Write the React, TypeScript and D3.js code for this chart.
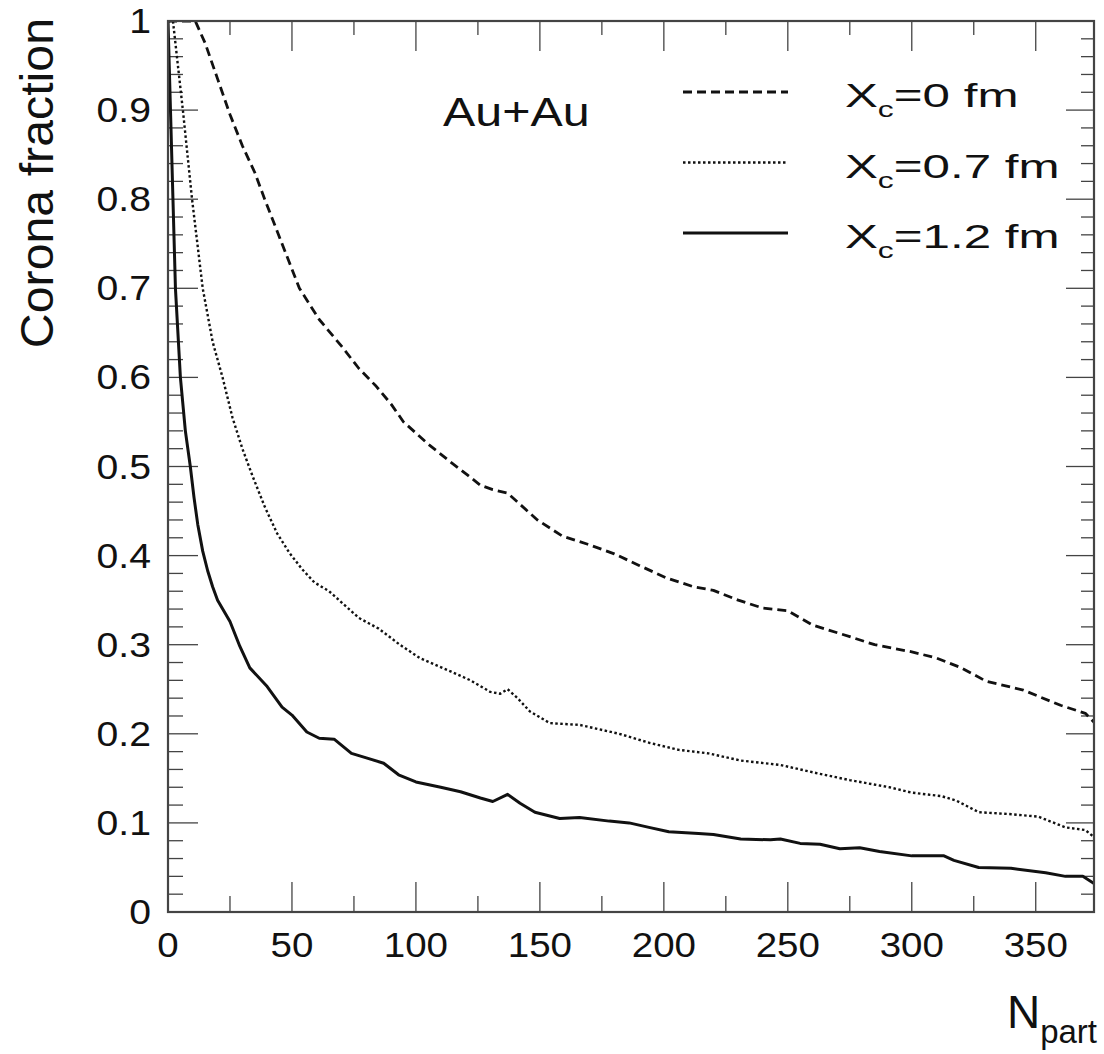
import React from "react";
import * as d3 from "d3";

const xc0Dashed: [number, number][] = [
  [0, 1], [11, 1], [15, 0.975], [20, 0.935], [25, 0.895], [30, 0.86], [35, 0.83], [39, 0.8],
  [46, 0.75], [53, 0.7], [61, 0.665], [70, 0.635], [77, 0.61], [84, 0.59], [90, 0.57], [95, 0.55],
  [105, 0.525], [114, 0.505], [121, 0.49], [126, 0.479], [131, 0.474], [137, 0.47], [141, 0.46],
  [149, 0.44], [159, 0.422], [169, 0.413], [180, 0.402], [190, 0.389], [201, 0.375], [212, 0.365],
  [220, 0.361], [230, 0.35], [240, 0.341], [250, 0.338], [260, 0.322], [275, 0.309], [285, 0.3],
  [300, 0.292], [310, 0.285], [320, 0.274], [330, 0.259], [345, 0.249], [360, 0.232], [370, 0.223],
  [373.5, 0.213],
];

const xc07Dotted: [number, number][] = [
  [0, 1], [2, 1], [4, 0.95], [6, 0.9], [9.7, 0.8], [14, 0.7], [18, 0.64], [22, 0.6], [26, 0.555],
  [30, 0.52], [34, 0.49], [39, 0.455], [44, 0.425], [49, 0.403], [54, 0.385], [59, 0.37], [65, 0.36],
  [69, 0.35], [77, 0.33], [85, 0.318], [93.5, 0.3], [101.6, 0.285], [114, 0.27], [122, 0.26],
  [130, 0.247], [134, 0.245], [137, 0.25], [141, 0.24], [146, 0.225], [154, 0.212], [166, 0.21],
  [174, 0.205], [182, 0.2], [194, 0.19], [206, 0.182], [218, 0.178], [231, 0.17], [247, 0.165],
  [255, 0.16], [263, 0.155], [275, 0.148], [291, 0.14], [300, 0.134], [312, 0.13], [318, 0.125],
  [327, 0.112], [339, 0.11], [351, 0.107], [362, 0.095], [370, 0.092], [373.5, 0.084],
];

const xc12Solid: [number, number][] = [
  [0, 1], [1, 0.9], [2, 0.8], [3, 0.7], [5, 0.6], [7, 0.54], [9, 0.5], [10.5, 0.465], [12, 0.435],
  [14, 0.405], [16, 0.383], [18, 0.365], [20, 0.35], [25, 0.326], [29, 0.298], [33, 0.274], [40, 0.253], [46, 0.23],
  [50, 0.221], [56, 0.202], [61, 0.195], [67, 0.194], [74, 0.178], [80, 0.173], [87, 0.167],
  [93, 0.154], [100, 0.146], [110, 0.14], [118, 0.135], [126, 0.128], [131, 0.124], [137, 0.132],
  [142, 0.122], [148, 0.112], [158, 0.105], [166, 0.106], [178, 0.102], [186, 0.1], [194, 0.095],
  [202, 0.09], [214, 0.088], [220, 0.087], [231, 0.082], [243, 0.081], [247, 0.082], [255, 0.077],
  [263, 0.076], [271, 0.071], [279, 0.072], [287, 0.068], [300, 0.063], [313, 0.063], [317, 0.058],
  [327, 0.05], [340, 0.049], [354, 0.044], [362, 0.04], [369, 0.04], [373.5, 0.032],
];

const xMajorTicks = [0, 50, 100, 150, 200, 250, 300, 350];
const xMinorTicks = [25, 75, 125, 175, 225, 275, 325];
const yMajorTicks = [0, 0.1, 0.2, 0.3, 0.4, 0.5, 0.6, 0.7, 0.8, 0.9, 1];
const yLabels = ["0", "0.1", "0.2", "0.3", "0.4", "0.5", "0.6", "0.7", "0.8", "0.9", "1"];
const xDomain: [number, number] = [0, 373.5];
const yDomain: [number, number] = [0, 1];

const legendItems = [
  { value: "0", dash: "9 5", width: 2.8 },
  { value: "0.7", dash: "2.5 2.5", width: 2.4 },
  { value: "1.2", dash: "", width: 3 },
];

const W = 1104;
const H = 1054;
const L = 168, R = 1094, T = 21, B = 912;
const FONT = "'Liberation Sans', Arial, sans-serif";
const INK = "#111";

export default function App() {
  const x = d3.scaleLinear().domain(xDomain).range([L, R]);
  const y = d3.scaleLinear().domain(yDomain).range([B, T]);
  const line = d3.line<[number, number]>().x((d) => x(d[0])).y((d) => y(d[1]));
  const yMinor: number[] = d3.range(0, 1.0001, 0.02).filter((v) => Math.abs(v * 10 - Math.round(v * 10)) > 1e-6);

  const series = [
    { data: xc0Dashed, ...legendItems[0] },
    { data: xc07Dotted, ...legendItems[1] },
    { data: xc12Solid, ...legendItems[2] },
  ];

  return (
    <svg width={W} height={H} style={{ position: "absolute", left: 0, top: 0, background: "#fff" }} fontFamily={FONT}>
      <defs>
        <clipPath id="plotClip">
          <rect x={L} y={T} width={R - L} height={B - T} />
        </clipPath>
      </defs>
      <rect x={0} y={0} width={W} height={H} fill="#fff" />

      {/* ticks */}
      <g stroke="#444" strokeWidth={1.3}>
        {xMajorTicks.map((t) => (
          <g key={"xM" + t}>
            <line x1={x(t)} x2={x(t)} y1={B} y2={B - 30} />
            <line x1={x(t)} x2={x(t)} y1={T} y2={T + 30} />
          </g>
        ))}
        {xMinorTicks.map((t) => (
          <g key={"xm" + t}>
            <line x1={x(t)} x2={x(t)} y1={B} y2={B - 16} />
            <line x1={x(t)} x2={x(t)} y1={T} y2={T + 14} />
          </g>
        ))}
        {yMajorTicks.map((t) => (
          <g key={"yM" + t}>
            <line x1={L} x2={L + 30} y1={y(t)} y2={y(t)} />
            <line x1={R} x2={R - 28} y1={y(t)} y2={y(t)} />
          </g>
        ))}
        {yMinor.map((t) => (
          <g key={"ym" + t}>
            <line x1={L} x2={L + 15} y1={y(t)} y2={y(t)} />
            <line x1={R} x2={R - 13} y1={y(t)} y2={y(t)} />
          </g>
        ))}
      </g>

      {/* curves */}
      <g clipPath="url(#plotClip)">
        {series.map((s, i) => (
          <path
            key={i}
            d={line(s.data) || ""}
            fill="none"
            stroke={INK}
            strokeWidth={s.width}
            strokeDasharray={s.dash || undefined}
            strokeLinejoin="round"
          />
        ))}
      </g>

      {/* frame */}
      <rect x={L} y={T} width={R - L} height={B - T} fill="none" stroke="#444" strokeWidth={2.2} />

      {/* y tick labels */}
      {yMajorTicks.map((t, i) => (
        <text
          key={"yl" + t}
          transform={`translate(151,${y(t) + 12}) scale(1.12,1)`}
          textAnchor="end"
          fontSize={35}
          fill={INK}
        >
          {yLabels[i]}
        </text>
      ))}

      {/* x tick labels */}
      {xMajorTicks.map((t) => (
        <text
          key={"xl" + t}
          transform={`translate(${x(t)},957) scale(1.1,1)`}
          textAnchor="middle"
          fontSize={35}
          fill={INK}
        >
          {String(t)}
        </text>
      ))}

      {/* axis titles */}
      <text transform="translate(53,18) rotate(-90) scale(1.05,1)" textAnchor="end" fontSize={46} fill={INK}>
        Corona fraction
      </text>
      <text x={1097} y={1028} textAnchor="end" fontSize={46} fill={INK}>
        N<tspan fontSize={33} dy={15}>part</tspan>
      </text>

      {/* Au+Au */}
      <text transform="translate(443,126) scale(1.18,1)" fontSize={41} fill={INK}>
        Au+Au
      </text>

      {/* legend */}
      {legendItems.map((it, i) => {
        const ly = 92 + i * 70.5;
        return (
          <g key={"lg" + i}>
            <line
              x1={683}
              x2={788}
              y1={ly}
              y2={ly}
              stroke={INK}
              strokeWidth={it.width}
              strokeDasharray={it.dash || undefined}
            />
            <text transform={`translate(845,${ly + 15}) scale(1.45,1)`} fontSize={34} fill={INK}>
              X
              <tspan fontSize={22} dy={10}>c</tspan>
              <tspan dy={-10}>{"=" + it.value + " fm"}</tspan>
            </text>
          </g>
        );
      })}
    </svg>
  );
}
